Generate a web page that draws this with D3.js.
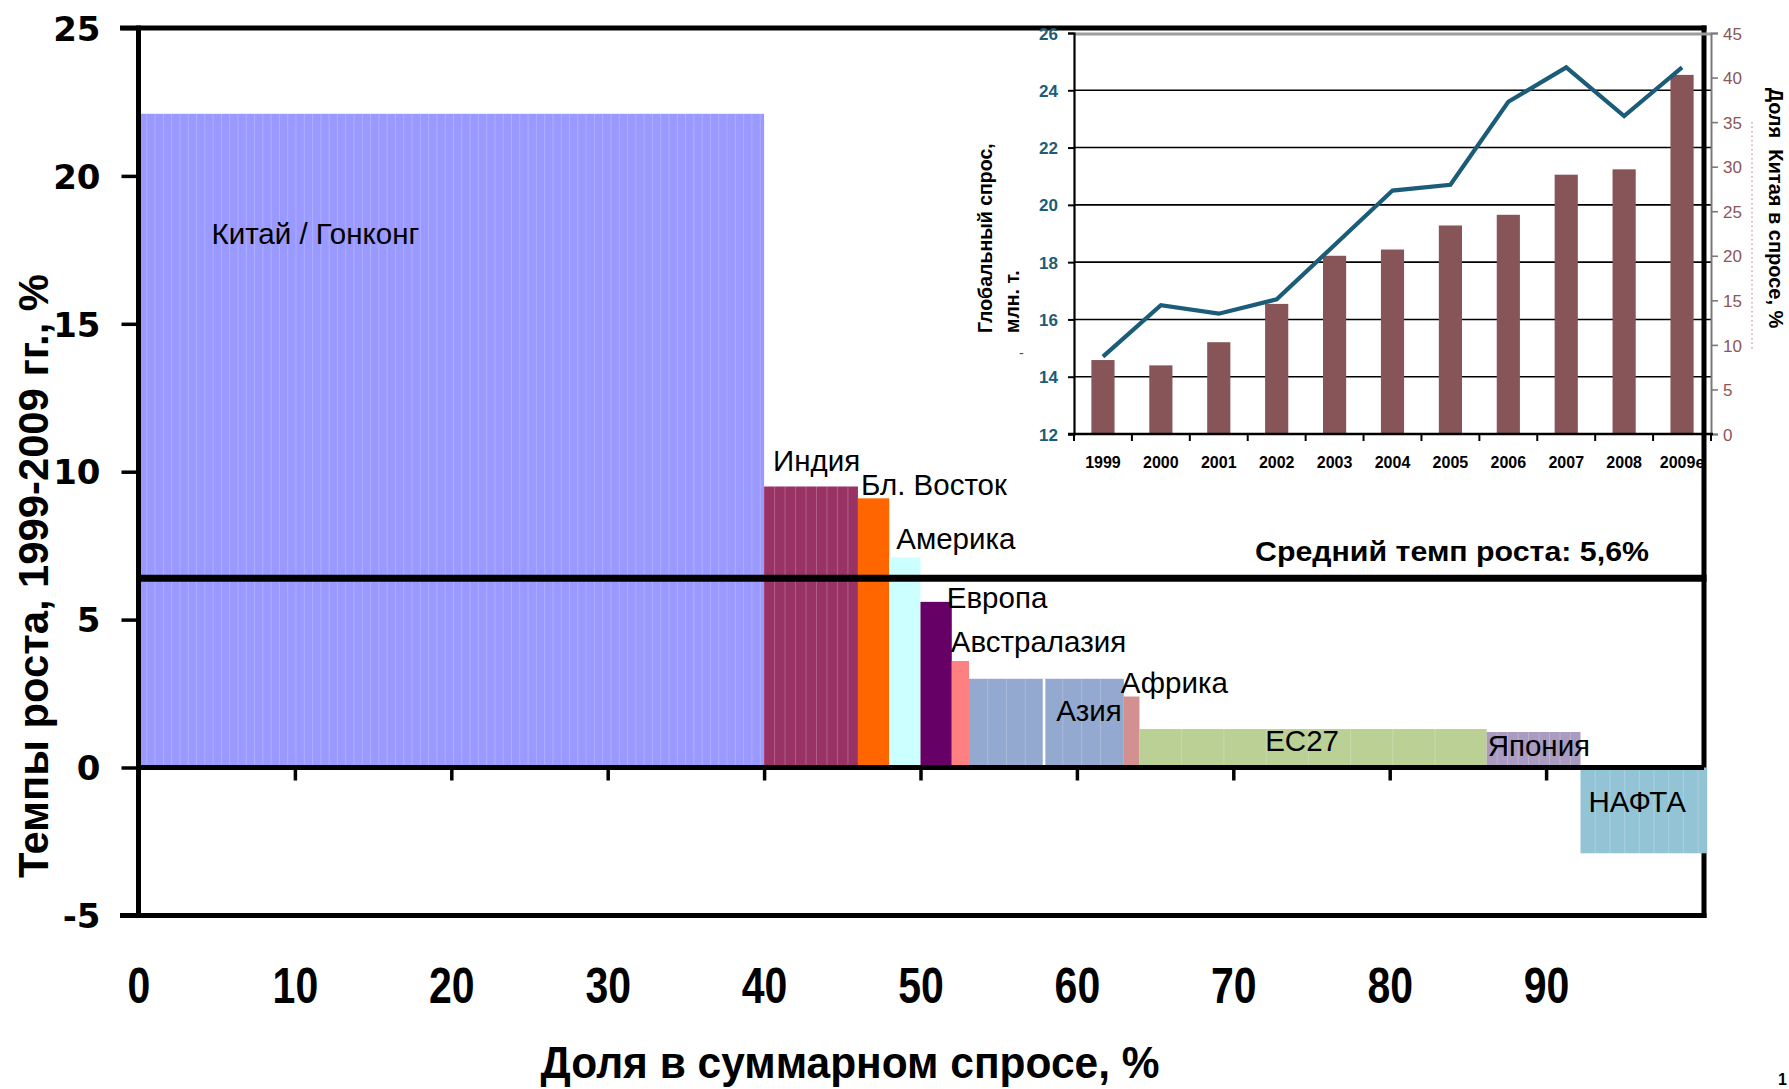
<!DOCTYPE html>
<html>
<head>
<meta charset="utf-8">
<script src="https://cdn.jsdelivr.net/npm/d3@7"></script>
<style>
  html, body { margin: 0; padding: 0; background: #fff; }
  svg { display: block; }
</style>
</head>
<body>
<svg id="chart" width="1789" height="1089"></svg>
<script>
// ---- Main chart: growth of demand by region vs. share of total demand ----
const regions = ["Китай / Гонконг", "Индия", "Бл. Восток", "Америка", "Европа", "Австралазия",
                 "Азия", "Африка", "ЕС27", "Япония", "НАФТА"];
const demandShare = [40.0, 6.0, 2.0, 2.0, 2.0, 1.1, 9.9, 1.0, 22.2, 6.0, 8.1];   // width, %
const growthRate  = [22.1, 9.5, 9.1, 7.1, 5.6, 3.6, 3.0, 2.4, 1.3, 1.2, -2.9];    // height, %
const averageLevel = 6.4;
const averageText = "Средний темп роста: 5,6%";
const growthTicks = [-5, 0, 5, 10, 15, 20, 25];
const shareTicks = [0, 10, 20, 30, 40, 50, 60, 70, 80, 90];
const growthTitle = "Темпы роста, 1999-2009 гг., %";
const shareTitle = "Доля в суммарном спросе, %";

// ---- Inset: global demand and China's share of it ----
const years = ["1999", "2000", "2001", "2002", "2003", "2004", "2005", "2006", "2007", "2008", "2009e"];
const globalDemand = [14.7, 16.5, 16.2, 16.7, 18.6, 20.5, 20.7, 23.6, 24.8, 23.1, 24.8]; // млн т
const chinaShare   = [8.3, 7.7, 10.3, 14.6, 20.0, 20.7, 23.4, 24.6, 29.1, 29.7, 40.3];  // %
const demandTicks = [12, 14, 16, 18, 20, 22, 24, 26];
const chinaShareTicks = [0, 5, 10, 15, 20, 25, 30, 35, 40, 45];
const demandTitle = ["Глобальный спрос,", "млн. т."];
const chinaShareTitle = "Доля  Китая в спросе, %";

// ---- Styling ----
const regionColor = {
  "Китай / Гонконг": "#9999ff", "Индия": "#993366", "Бл. Восток": "#ff6600",
  "Америка": "#ccffff", "Европа": "#660066", "Австралазия": "#ff8080",
  "Азия": "#93a9d0", "Африка": "#d29090", "ЕС27": "#bbd095",
  "Япония": "#aa9bc1", "НАФТА": "#93c4d6"
};
// faint sub-column lines inside each block (spacing in % of share)
const stripeStep = {
  "Китай / Гонконг": 0.53, "Индия": 0.67, "Азия": 1.2, "ЕС27": 2.7,
  "Япония": 0.67, "НАФТА": 0.94
};
// label placement: reference edge, anchor and pixel offsets
const labelPlace = {
  "Китай / Гонконг": { edge: "start", anchor: "start", dx: 73, ref: "top", dy: 130 },
  "Индия":       { edge: "start", anchor: "start", dx: 9,   ref: "top", dy: -15 },
  "Бл. Восток":  { edge: "start", anchor: "start", dx: 3,   ref: "top", dy: -3 },
  "Америка":     { edge: "start", anchor: "start", dx: 7,   ref: "top", dy: -8 },
  "Европа":      { edge: "end",   anchor: "start", dx: -5,  ref: "top", dy: 6 },
  "Австралазия": { edge: "start", anchor: "start", dx: -1,  ref: "top", dy: -9 },
  "Азия":        { edge: "end",   anchor: "end",   dx: -2,  ref: "top", dy: 42 },
  "Африка":      { edge: "start", anchor: "start", dx: -3,  ref: "top", dy: -4 },
  "ЕС27":        { edge: "mid",   anchor: "middle", dx: -11, ref: "top", dy: 22 },
  "Япония":      { edge: "start", anchor: "start", dx: 1,   ref: "top", dy: 24 },
  "НАФТА":       { edge: "start", anchor: "start", dx: 8,   ref: "zero", dy: 44 }
};

const svg = d3.select("#chart");
const SANS = "'Liberation Sans', Arial, Helvetica, sans-serif";
const WIDE = "'DejaVu Sans', Verdana, sans-serif";
const plain = d => String(d);

const x = d3.scaleLinear().domain([0, 100]).range([138.5, 1702.5]);
const y = d3.scaleLinear().domain([-5, 25]).range([915.4, 28]);

// block layout from cumulative shares
let acc = 0;
const blocks = regions.map((name, i) => {
  const b = { name, start: acc, end: acc + demandShare[i], value: growthRate[i] };
  acc += demandShare[i];
  return b;
});

// ---- frame (top, right, bottom) ----
const frame = svg.append("g").attr("stroke", "#000").attr("stroke-width", 5).attr("fill", "none");
frame.append("line").attr("x1", 120).attr("x2", 1706.5).attr("y1", y(25)).attr("y2", y(25));
frame.append("line").attr("x1", 1704).attr("x2", 1704).attr("y1", y(25) - 2.5).attr("y2", y(-5) + 2.5);
frame.append("line").attr("x1", 120).attr("x2", 1706.5).attr("y1", y(-5)).attr("y2", y(-5));

// ---- inset chart ----
const inset = svg.append("g");
const xi = d3.scaleBand().domain(years).range([1074, 1711]).paddingInner(0.6).paddingOuter(0.3);
const yl = d3.scaleLinear().domain([12, 26]).range([434, 33]);
const yr = d3.scaleLinear().domain([0, 45]).range([434, 33]);

inset.append("g").selectAll("line").data(demandTicks.filter(v => v > 12 && v < 26)).join("line")
  .attr("x1", 1074).attr("x2", 1711).attr("y1", d => yl(d)).attr("y2", d => yl(d))
  .attr("stroke", "#000").attr("stroke-width", 1.6);
inset.append("line").attr("x1", 1074).attr("x2", 1711).attr("y1", yl(26) + 1).attr("y2", yl(26) + 1)
  .attr("stroke", "#9c9c9c").attr("stroke-width", 3);

inset.append("g").selectAll("rect").data(years).join("rect")
  .attr("x", d => xi(d)).attr("width", xi.bandwidth())
  .attr("y", (d, i) => yr(chinaShare[i])).attr("height", (d, i) => yr(0) - yr(chinaShare[i]))
  .attr("fill", "#875457");

inset.append("path")
  .datum(years.map((d, i) => [xi(d) + xi.bandwidth() / 2, yl(globalDemand[i])]))
  .attr("d", d3.line())
  .attr("fill", "none").attr("stroke", "#1b5c78").attr("stroke-width", 4.2)
  .attr("stroke-linejoin", "miter");

// left axis (demand)
const axL = inset.append("g").attr("transform", "translate(1074,0)")
  .call(d3.axisLeft(yl).tickValues(demandTicks).tickSize(6).tickPadding(10).tickFormat(plain));
axL.select(".domain").attr("stroke", "#000").attr("stroke-width", 2.2);
axL.selectAll(".tick line").attr("stroke", "#000").attr("stroke-width", 2);
axL.selectAll(".tick text").attr("fill", "#1b5c78").attr("font-family", SANS)
  .attr("font-weight", "bold").attr("font-size", 17).attr("dy", "0.36em");

// right axis (China share)
const axR = inset.append("g").attr("transform", "translate(1711,0)")
  .call(d3.axisRight(yr).tickValues(chinaShareTicks).tickSize(7).tickPadding(5).tickFormat(plain));
axR.select(".domain").attr("stroke", "#7a7a7a").attr("stroke-width", 2);
axR.selectAll(".tick line").attr("stroke", "#7a7a7a").attr("stroke-width", 1.6);
axR.selectAll(".tick text").attr("fill", "#8c5656").attr("font-family", SANS)
  .attr("font-size", 17).attr("dy", "0.36em");

// bottom axis: ticks on category boundaries, labels at centres
const axB = inset.append("g").attr("transform", "translate(0,434)")
  .call(d3.axisBottom(xi).tickSize(0).tickPadding(23));
axB.select(".domain").remove();
axB.selectAll(".tick text").attr("fill", "#000").attr("font-family", SANS)
  .attr("font-weight", "bold").attr("font-size", 16);
const gap = (xi.step() - xi.bandwidth()) / 2;
const bounds = years.map(d => xi(d) - gap).concat([xi(years[years.length - 1]) + xi.bandwidth() + gap]);
inset.append("line").attr("x1", 1068).attr("x2", 1713).attr("y1", 434).attr("y2", 434)
  .attr("stroke", "#000").attr("stroke-width", 2.4);
inset.append("g").selectAll("line").data(bounds).join("line")
  .attr("x1", d => d).attr("x2", d => d).attr("y1", 434).attr("y2", 441)
  .attr("stroke", "#000").attr("stroke-width", 2);

// inset axis titles
inset.selectAll("text.dtitle").data(demandTitle).join("text").attr("class", "dtitle")
  .attr("transform", (d, i) => `translate(${992 + i * 27},333) rotate(-90)`)
  .attr("font-family", SANS).attr("font-weight", "bold").attr("font-size", 19.5)
  .attr("fill", "#000").text(d => d);
inset.append("text").attr("x", 1019).attr("y", 358).attr("font-family", SANS)
  .attr("font-size", 14).attr("fill", "#1b5c78").text("-");
inset.append("line").attr("x1", 1752).attr("x2", 1752).attr("y1", 122).attr("y2", 350)
  .attr("stroke", "#c09090").attr("stroke-width", 1.2).attr("stroke-dasharray", "1.5,3");
inset.append("text")
  .attr("transform", "translate(1769,208) rotate(90)")
  .attr("text-anchor", "middle")
  .attr("font-family", SANS).attr("font-weight", "bold").attr("font-size", 20)
  .attr("fill", "#000").style("white-space", "pre")
  .text(chinaShareTitle);

// ---- region blocks ----
const bars = svg.append("g");
bars.selectAll("rect").data(blocks).join("rect")
  .attr("x", d => x(d.start)).attr("width", d => x(d.end) - x(d.start))
  .attr("y", d => y(Math.max(0, d.value))).attr("height", d => Math.abs(y(d.value) - y(0)))
  .attr("fill", d => regionColor[d.name]);

// faint sub-column lines
const stripes = [];
blocks.forEach(b => {
  const step = stripeStep[b.name];
  if (!step) return;
  for (let s = b.start + step; s < b.end - step * 0.4; s += step) stripes.push({ s, b });
});
bars.append("g").selectAll("line").data(stripes).join("line")
  .attr("x1", d => x(d.s)).attr("x2", d => x(d.s))
  .attr("y1", d => y(Math.max(0, d.b.value))).attr("y2", d => y(Math.min(0, d.b.value)))
  .attr("stroke", "#fff").attr("stroke-opacity", 0.22).attr("stroke-width", 1);
// white divider inside the Asia block
const asia = blocks.find(b => b.name === "Азия");
bars.append("line")
  .attr("x1", x(asia.start + 4.8)).attr("x2", x(asia.start + 4.8))
  .attr("y1", y(asia.value)).attr("y2", y(0))
  .attr("stroke", "#fff").attr("stroke-width", 2.6);

// region labels
bars.append("g").selectAll("text").data(blocks).join("text")
  .attr("x", d => {
    const p = labelPlace[d.name];
    const ex = p.edge === "start" ? x(d.start) : p.edge === "end" ? x(d.end) : (x(d.start) + x(d.end)) / 2;
    return ex + p.dx;
  })
  .attr("y", d => {
    const p = labelPlace[d.name];
    return (p.ref === "zero" ? y(0) : y(d.value)) + p.dy;
  })
  .attr("text-anchor", d => labelPlace[d.name].anchor)
  .attr("font-family", SANS).attr("font-size", 29.5).attr("fill", "#000")
  .text(d => d.name);

// ---- average growth line and caption ----
svg.append("line").attr("x1", x(0)).attr("x2", 1706.5)
  .attr("y1", y(averageLevel)).attr("y2", y(averageLevel))
  .attr("stroke", "#000").attr("stroke-width", 7);
svg.append("text").attr("x", 1255).attr("y", 561)
  .attr("font-family", SANS).attr("font-weight", "bold").attr("font-size", 28)
  .attr("textLength", 394).attr("lengthAdjust", "spacingAndGlyphs")
  .attr("fill", "#000").text(averageText);

// ---- zero line with share ticks ----
const ax0 = svg.append("g").attr("transform", `translate(0,${y(0)})`)
  .call(d3.axisBottom(x).tickValues(shareTicks.filter(v => v > 0)).tickSize(13).tickFormat(""));
ax0.select(".domain").attr("d", `M${x(0)},0H${x(100) + 1.5}`).attr("stroke", "#000").attr("stroke-width", 5);
ax0.selectAll(".tick line").attr("stroke", "#000").attr("stroke-width", 3.5);

// share tick labels under the frame
const axX = svg.append("g").attr("transform", `translate(0,${y(-5)})`)
  .call(d3.axisBottom(x).tickValues(shareTicks).tickSize(0).tickPadding(52).tickFormat(plain));
axX.select(".domain").remove();
axX.selectAll(".tick text").attr("fill", "#000").attr("font-family", SANS)
  .attr("font-weight", "bold").attr("font-size", 50).attr("transform", "scale(0.82,1)");

// ---- left axis ----
const axY = svg.append("g").attr("transform", `translate(${x(0)},0)`)
  .call(d3.axisLeft(y).tickValues(growthTicks).tickSize(17).tickPadding(21).tickFormat(plain));
axY.select(".domain").attr("d", `M0,${y(25) - 2.5}V${y(-5) + 2.5}`).attr("stroke", "#000").attr("stroke-width", 5);
axY.selectAll(".tick line").attr("stroke", "#000").attr("stroke-width", 3.5);
axY.selectAll(".tick text").attr("fill", "#000").attr("font-family", WIDE)
  .attr("font-weight", "bold").attr("font-size", 34).attr("dy", "0.36em");

// ---- axis titles ----
svg.append("text")
  .attr("transform", "translate(48,576) rotate(-90)")
  .attr("text-anchor", "middle")
  .attr("font-family", SANS).attr("font-weight", "bold").attr("font-size", 42)
  .attr("textLength", 604).attr("lengthAdjust", "spacingAndGlyphs")
  .attr("fill", "#000").text(growthTitle);
svg.append("text")
  .attr("x", 850).attr("y", 1078).attr("text-anchor", "middle")
  .attr("font-family", SANS).attr("font-weight", "bold").attr("font-size", 44)
  .attr("textLength", 619).attr("lengthAdjust", "spacingAndGlyphs")
  .attr("fill", "#000").text(shareTitle);

// page number
svg.append("text").attr("x", 1778).attr("y", 1085)
  .attr("font-family", SANS).attr("font-weight", "bold").attr("font-size", 16)
  .attr("fill", "#000").text("1");
</script>
</body>
</html>
